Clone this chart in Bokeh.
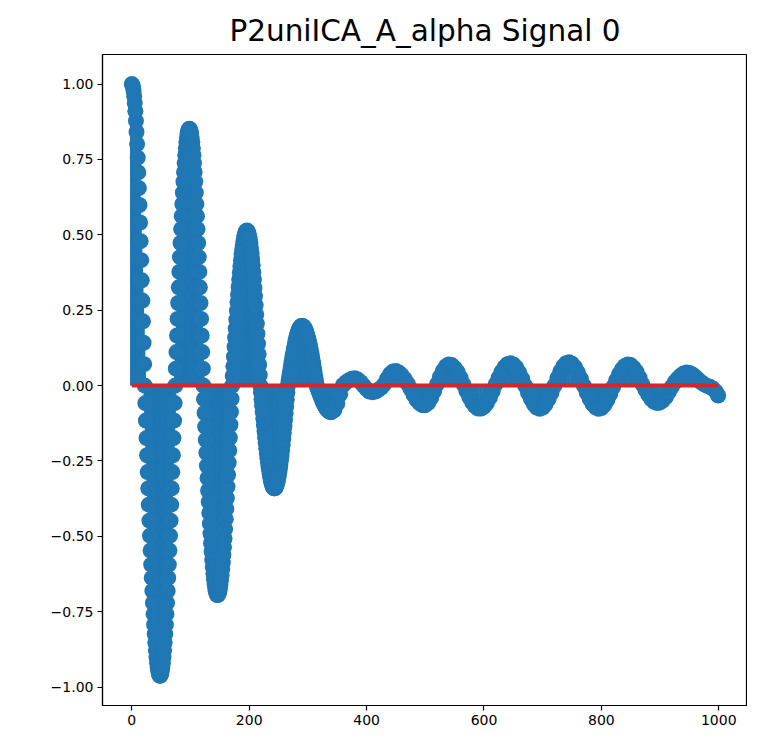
from bokeh.plotting import figure
from bokeh.models import Range1d, FixedTicker
from bokeh.embed import file_html
from bokeh.resources import INLINE

# ---- data ----
# samples 0..339 (every sample, high-amplitude part)
DENSE_START, DENSE_STOP = 0, 340
DENSE_SIGNAL = [
    # 0-22
    1.000, 0.997, 0.990, 0.977, 0.960, 0.937, 0.910, 0.878, 0.841, 0.801,
    0.756, 0.707, 0.655, 0.599, 0.541, 0.479, 0.416, 0.349, 0.282, 0.213,
    0.142, 0.071, 0.000,
    # 23-48
    -0.058, -0.116, -0.174, -0.231, -0.287, -0.341, -0.395, -0.448, -0.498, -0.547,
    -0.594, -0.638, -0.681, -0.721, -0.758, -0.793, -0.824, -0.852, -0.878, -0.900,
    -0.920, -0.935, -0.947, -0.956, -0.961, -0.963,
    # 49-74
    -0.961, -0.956, -0.947, -0.935, -0.920, -0.900, -0.878, -0.852, -0.824, -0.793,
    -0.758, -0.721, -0.681, -0.638, -0.594, -0.547, -0.498, -0.448, -0.395, -0.341,
    -0.287, -0.231, -0.174, -0.116, -0.058, 0.000,
    # 75-98
    0.056, 0.111, 0.166, 0.221, 0.274, 0.326, 0.377, 0.426, 0.473, 0.519,
    0.562, 0.602, 0.640, 0.676, 0.708, 0.738, 0.764, 0.787, 0.807, 0.823,
    0.836, 0.845, 0.850, 0.852,
    # 99-122
    0.850, 0.845, 0.836, 0.823, 0.807, 0.787, 0.764, 0.738, 0.708, 0.676,
    0.640, 0.602, 0.562, 0.519, 0.473, 0.426, 0.377, 0.326, 0.274, 0.221,
    0.166, 0.111, 0.056, 0.000,
    # 123-146
    -0.045, -0.091, -0.136, -0.180, -0.223, -0.266, -0.307, -0.348, -0.386, -0.423,
    -0.458, -0.491, -0.523, -0.551, -0.578, -0.602, -0.623, -0.642, -0.658, -0.671,
    -0.682, -0.689, -0.694, -0.695,
    # 147-171
    -0.694, -0.689, -0.683, -0.673, -0.661, -0.646, -0.629, -0.609, -0.587, -0.562,
    -0.536, -0.507, -0.476, -0.443, -0.409, -0.373, -0.335, -0.296, -0.256, -0.215,
    -0.173, -0.130, -0.087, -0.044, 0.000,
    # 172-196
    0.032, 0.064, 0.096, 0.128, 0.159, 0.189, 0.219, 0.248, 0.276, 0.302,
    0.327, 0.352, 0.375, 0.396, 0.416, 0.434, 0.450, 0.465, 0.478, 0.489,
    0.498, 0.505, 0.510, 0.513, 0.514,
    # 197-219
    0.513, 0.509, 0.503, 0.495, 0.484, 0.471, 0.456, 0.439, 0.420, 0.399,
    0.376, 0.351, 0.324, 0.297, 0.267, 0.236, 0.205, 0.172, 0.139, 0.104,
    0.070, 0.035, 0.000,
    # 220-243
    -0.022, -0.045, -0.066, -0.088, -0.109, -0.131, -0.151, -0.171, -0.190, -0.208,
    -0.225, -0.241, -0.256, -0.270, -0.283, -0.295, -0.306, -0.315, -0.323, -0.329,
    -0.335, -0.338, -0.340, -0.341,
    # 244-266
    -0.340, -0.338, -0.334, -0.328, -0.321, -0.313, -0.303, -0.291, -0.279, -0.265,
    -0.249, -0.233, -0.215, -0.197, -0.177, -0.157, -0.136, -0.114, -0.092, -0.069,
    -0.046, -0.023, 0.000,
    # 267-290
    0.013, 0.026, 0.039, 0.051, 0.064, 0.076, 0.088, 0.099, 0.110, 0.121,
    0.130, 0.140, 0.149, 0.157, 0.165, 0.171, 0.178, 0.183, 0.188, 0.191,
    0.194, 0.196, 0.198, 0.198,
    # 291-315
    0.198, 0.196, 0.194, 0.192, 0.188, 0.184, 0.179, 0.173, 0.167, 0.160,
    0.153, 0.144, 0.136, 0.126, 0.116, 0.106, 0.095, 0.084, 0.073, 0.061,
    0.049, 0.037, 0.025, 0.012, 0.000,
    # 316-339
    -0.006, -0.011, -0.016, -0.022, -0.027, -0.032, -0.037, -0.042, -0.047, -0.052,
    -0.056, -0.060, -0.064, -0.068, -0.071, -0.074, -0.077, -0.080, -0.082, -0.084,
    -0.085, -0.086, -0.087, -0.088,
]
# samples 340..995 every 5th, plus the last sample 999 (low-amplitude part)
SPARSE_START, SPARSE_STOP, SPARSE_STEP, LAST_SAMPLE = 340, 1000, 5, 999
SPARSE_SIGNAL = [
    -0.088, -0.081, -0.060, -0.029, 0.002, 0.011, 0.018, 0.023, 0.024, 0.020,
    0.011, 0.000,
    -0.012, -0.020, -0.022, -0.020, -0.014, -0.007, 0.004, 0.023, 0.038, 0.047,
    0.048, 0.043, 0.034, 0.021, 0.006, -0.012, -0.031, -0.047, -0.058, -0.065,
    -0.065, -0.057, -0.041, -0.019, 0.005, 0.029, 0.049, 0.064, 0.070, 0.068,
    0.059, 0.045, 0.026, 0.004, -0.018, -0.039, -0.056, -0.069, -0.076, -0.076,
    -0.070, -0.058, -0.040, -0.018, 0.005, 0.026, 0.046, 0.061, 0.071, 0.074,
    0.070, 0.060, 0.044, 0.023, 0.000, -0.024, -0.045, -0.062, -0.073, -0.077,
    -0.073, -0.062, -0.045, -0.024, 0.000, 0.025, 0.047, 0.064, 0.074, 0.077,
    0.072, 0.061, 0.044, 0.023, 0.000, -0.023, -0.044, -0.061, -0.072, -0.077,
    -0.075, -0.065, -0.049, -0.028, -0.005, 0.017, 0.038, 0.054, 0.065, 0.070,
    0.068, 0.059, 0.045, 0.026, 0.004, -0.014, -0.031, -0.045, -0.054, -0.058,
    -0.056, -0.049, -0.037, -0.021, -0.004, 0.011, 0.023, 0.033, 0.040, 0.043,
    0.042, 0.037, 0.029, 0.020, 0.011, 0.004, -0.001, -0.004, -0.010, -0.020,
    -0.033,
]
BASELINE = 0.0
TITLE = "P2uniICA_A_alpha Signal 0"
X_TICKS = [0, 200, 400, 600, 800, 1000]
X_TICK_LABELS = ["0", "200", "400", "600", "800", "1000"]
Y_TICKS = [1.0, 0.75, 0.5, 0.25, 0.0, -0.25, -0.5, -0.75, -1.0]
Y_TICK_LABELS = ["1.00", "0.75", "0.50", "0.25", "0.00",
                 "\u22120.25", "\u22120.50", "\u22120.75", "\u22121.00"]

SAMPLES = (list(range(DENSE_START, DENSE_STOP))
           + list(range(SPARSE_START, SPARSE_STOP, SPARSE_STEP)) + [LAST_SAMPLE])
SIGNAL = DENSE_SIGNAL + SPARSE_SIGNAL
assert len(SAMPLES) == len(SIGNAL), (len(SAMPLES), len(SIGNAL))

BLUE = "#1f77b4"
RED = "#d62728"
FONT = "DejaVu Sans"

# ---- ranges with matplotlib-like 5% margins ----
xlo, xhi = min(SAMPLES), max(SAMPLES)
ylo, yhi = min(SIGNAL), max(SIGNAL)
xm = 0.05 * (xhi - xlo)
ym = 0.05 * (yhi - ylo)

p = figure(width=747, height=730, output_backend="svg", toolbar_location=None,
           x_range=Range1d(xlo - xm, xhi + xm), y_range=Range1d(ylo - ym, yhi + ym),
           min_border_left=102, min_border_right=0, min_border_top=54, min_border_bottom=25)

p.title.text = TITLE
p.title.align = "center"
p.title.text_font = FONT
p.title.text_font_size = "29.5px"
p.title.text_font_style = "normal"
p.title.text_color = "#000000"
p.title.standoff = 13

# stems
p.segment(x0=SAMPLES, y0=[BASELINE] * len(SAMPLES), x1=SAMPLES, y1=SIGNAL,
          line_color=BLUE, line_width=3.5)
# markers
p.scatter(SAMPLES, SIGNAL, size=16, marker="circle",
          fill_color=BLUE, line_color=BLUE, line_width=0)
# baseline
p.line([xlo, xhi], [BASELINE, BASELINE], line_color=RED, line_width=4)

p.xgrid.visible = False
p.ygrid.visible = False
p.outline_line_color = "#000000"
p.outline_line_width = 1.2
p.background_fill_color = "white"
p.border_fill_color = "white"

p.xaxis.ticker = FixedTicker(ticks=X_TICKS)
p.xaxis.major_label_overrides = {t: l for t, l in zip(X_TICKS, X_TICK_LABELS)}
p.yaxis.ticker = FixedTicker(ticks=Y_TICKS)
p.yaxis.major_label_overrides = {t: l for t, l in zip(Y_TICKS, Y_TICK_LABELS)}

for ax in (p.xaxis, p.yaxis):
    ax.axis_line_color = "#000000"
    ax.axis_line_width = 1.2
    ax.major_tick_line_color = "#000000"
    ax.major_tick_line_width = 1.2
    ax.major_tick_out = 5
    ax.major_tick_in = 0
    ax.minor_tick_line_color = None
    ax.major_label_text_font = FONT
    ax.major_label_text_font_size = "14px"
    ax.major_label_text_color = "#000000"
    ax.major_label_standoff = 4

open("out.html", "w").write(file_html(p, INLINE))
